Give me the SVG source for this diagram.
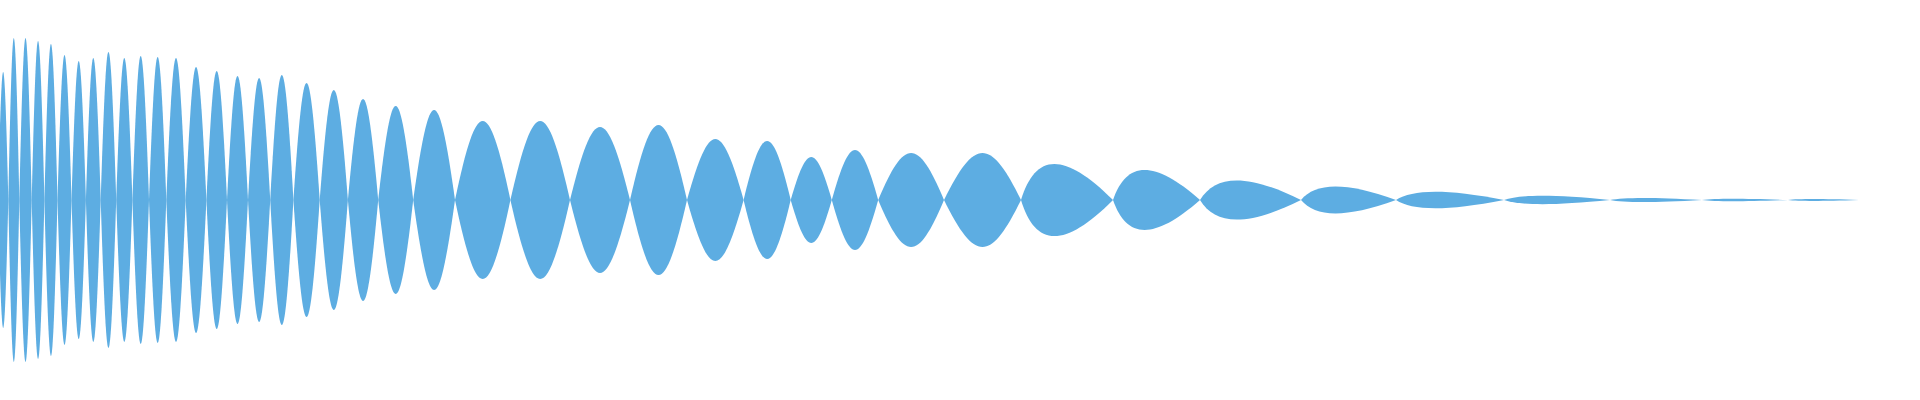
<svg xmlns="http://www.w3.org/2000/svg" xmlns:xlink="http://www.w3.org/1999/xlink" width="1920" height="400" viewBox="0 0 1920 400">
<style>.w{fill:#5dade2}</style>
<defs>
<path id="s" d="M0 0C0.4 -1.333 0.6 -1.333 1 0C0.6 1.333 0.4 1.333 0 0Z"/>
<path id="a" d="M0 0C0.15 -1.3 0.45 -1.45 1 0C0.45 1.45 0.15 1.3 0 0Z"/>
</defs>
<rect width="1920" height="400" fill="#fff"/>
<g class="w">
<use href="#s" transform="translate(-2,200) scale(10.3,128)"/>
<use href="#s" transform="translate(8.3,200) scale(11,162)"/>
<use href="#s" transform="translate(19.3,200) scale(12.4,162)"/>
<use href="#s" transform="translate(31.7,200) scale(12.7,159)"/>
<use href="#s" transform="translate(44.4,200) scale(13.1,156)"/>
<use href="#s" transform="translate(57.5,200) scale(14,145)"/>
<use href="#s" transform="translate(71.5,200) scale(14.4,139)"/>
<use href="#s" transform="translate(85.9,200) scale(14.8,142)"/>
<use href="#s" transform="translate(100.7,200) scale(15.5,148)"/>
<use href="#s" transform="translate(116.2,200) scale(16.2,142)"/>
<use href="#s" transform="translate(132.4,200) scale(16.6,144)"/>
<use href="#s" transform="translate(149,200) scale(17.3,143)"/>
<use href="#s" transform="translate(166.3,200) scale(19.4,142)"/>
<use href="#s" transform="translate(185.7,200) scale(20.7,133)"/>
<use href="#s" transform="translate(206.4,200) scale(20.6,129)"/>
<use href="#s" transform="translate(227,200) scale(21,124)"/>
<use href="#s" transform="translate(248,200) scale(22.2,122)"/>
<use href="#s" transform="translate(270.2,200) scale(23.2,125)"/>
<use href="#s" transform="translate(293.4,200) scale(26.3,117)"/>
<use href="#s" transform="translate(319.7,200) scale(28.2,110)"/>
<use href="#s" transform="translate(347.9,200) scale(30.3,101)"/>
<use href="#s" transform="translate(378.2,200) scale(35,94)"/>
<use href="#s" transform="translate(413.2,200) scale(41.8,90)"/>
<use href="#s" transform="translate(455,200) scale(55.4,79)"/>
<use href="#s" transform="translate(510.4,200) scale(59.6,79)"/>
<use href="#s" transform="translate(570,200) scale(60,73)"/>
<use href="#s" transform="translate(630,200) scale(57,75)"/>
<use href="#s" transform="translate(687,200) scale(56.6,61)"/>
<use href="#s" transform="translate(743.6,200) scale(47.1,59)"/>
<use href="#s" transform="translate(790.7,200) scale(41.1,43)"/>
<use href="#s" transform="translate(831.8,200) scale(46.4,50)"/>
<use href="#s" transform="translate(878.2,200) scale(65.8,47)"/>
<use href="#s" transform="translate(944,200) scale(77,47)"/>
<use href="#a" transform="translate(1021,200) scale(92,35)"/>
<use href="#a" transform="translate(1113,200) scale(87,29)"/>
<use href="#a" transform="translate(1200,200) scale(101,19)"/>
<use href="#a" transform="translate(1301,200) scale(95,13)"/>
<use href="#a" transform="translate(1396,200) scale(108,8)"/>
<use href="#a" transform="translate(1504,200) scale(106,4)"/>
<use href="#a" transform="translate(1610,200) scale(92,2)"/>
<use href="#a" transform="translate(1702,200) scale(86,1.2)"/>
<use href="#a" transform="translate(1788,200) scale(71,0.9)"/>
</g>
</svg>
